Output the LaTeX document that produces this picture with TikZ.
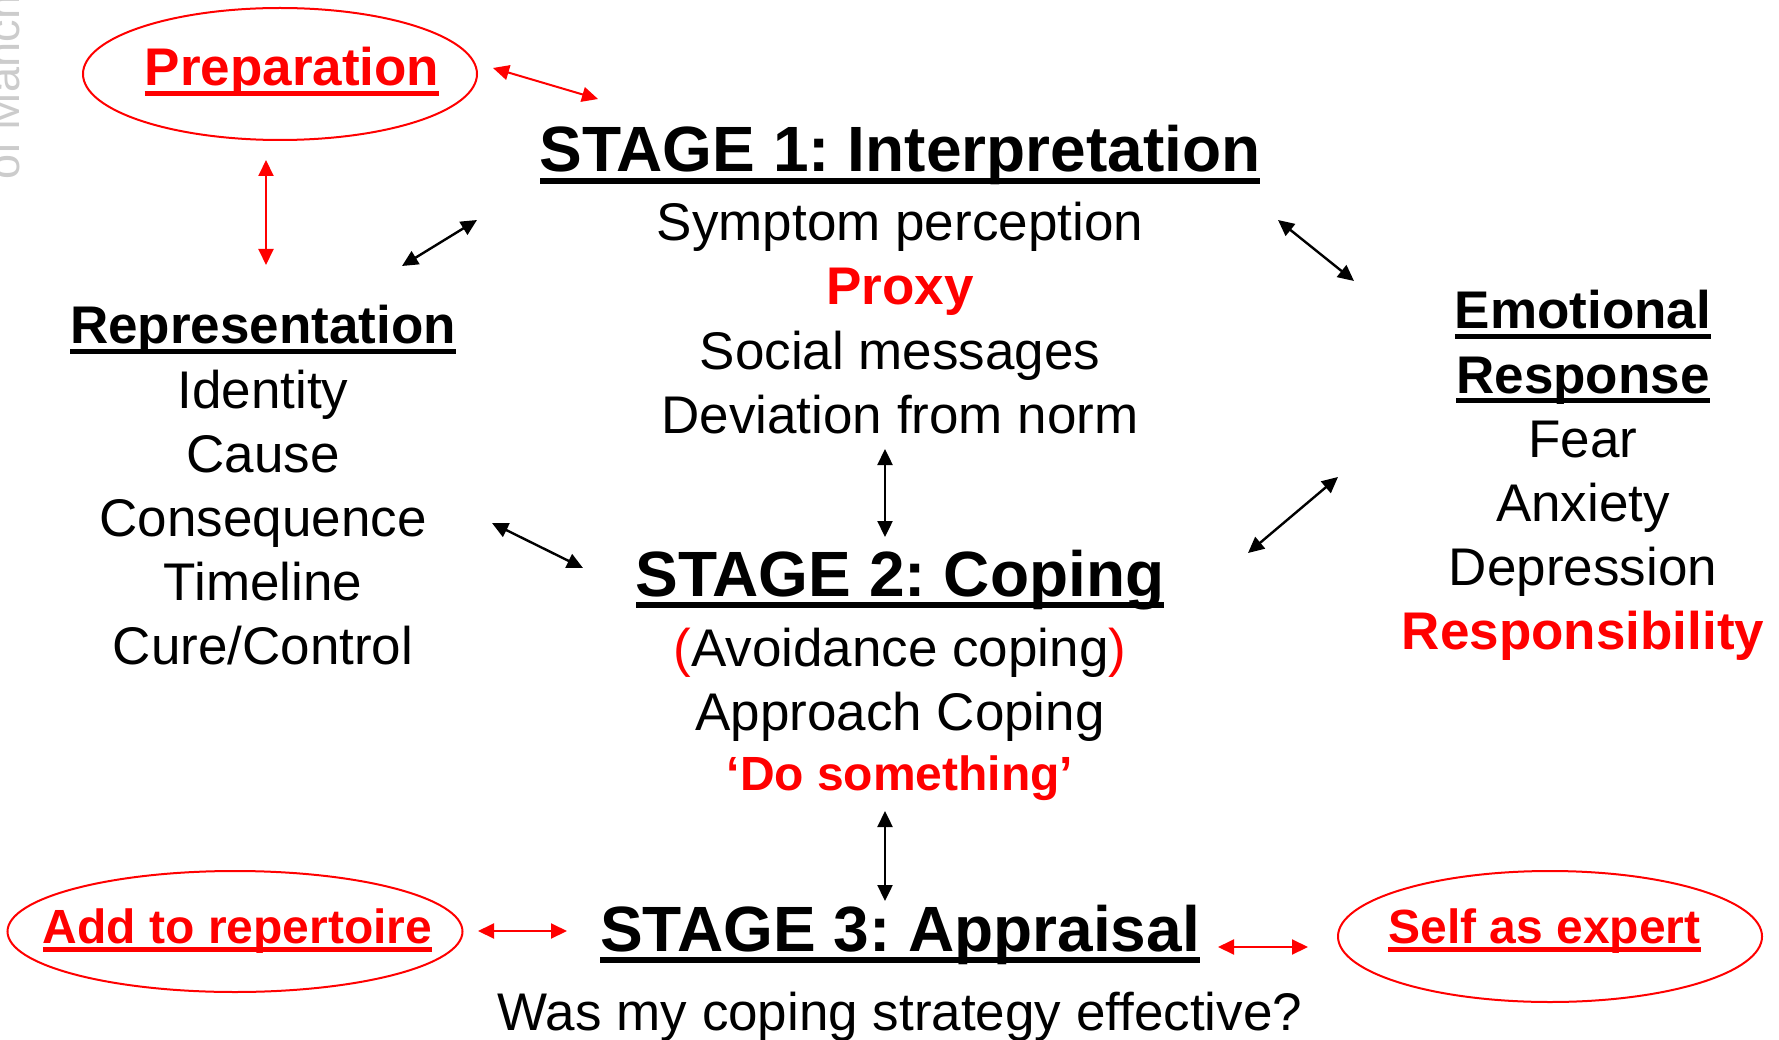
\documentclass[tikz,border=0pt]{standalone}
\usepackage{fontspec}
\setmainfont{Liberation Sans}
\usetikzlibrary{arrows.meta,shapes.geometric}

% underline drawn as a rule sized to the text box
\newsavebox\ulsave
\newcommand\ulined[1]{\sbox\ulsave{#1}\rlap{\rule[-0.18em]{\wd\ulsave}{0.09em}}\usebox\ulsave}

\begin{document}
\frenchspacing
\begin{tikzpicture}[x=1pt,y=-1pt,
  every node/.style={inner sep=0pt, outer sep=0pt},
  body/.style={anchor=base, font=\fontsize{53}{64}\selectfont},
  head/.style={anchor=base, font=\fontsize{53}{64}\selectfont\bfseries},
  smallhead/.style={anchor=base, font=\fontsize{48}{58}\selectfont\bfseries},
  stagehead/.style={anchor=base, font=\fontsize{64}{77}\selectfont\bfseries},
  oval/.style={ellipse, draw=red, line width=2pt},
  twoway/.style={line width=2.4pt, {Triangle[length=16pt,width=15pt]}-{Triangle[length=16pt,width=15pt]}},
  redway/.style={twoway, draw=red, line width=2pt},
]
\useasboundingbox (0,0) rectangle (1779,1040);
\fill[white] (0,0) rectangle (1779,1040);

% faint rotated watermark at the left edge
\begin{scope}
  \clip (0,0) rectangle (1779,1040);
  \node[anchor=base west, rotate=90, text=black!20,
        font=\fontsize{45}{54}\selectfont] (mark) at (19,180) {of Manchester};
\end{scope}

% Stage 1
\node[stagehead] (s1) at (900,172) {\ulined{STAGE 1: Interpretation}};
\node[body] (s1a) at (900,241) {Symptom perception};
\node[head, text=red] (s1b) at (900,305) {Proxy};
\node[body] (s1c) at (900,369) {Social messages};
\node[body] (s1d) at (900,433) {Deviation from norm};

% Representation
\node[head] (rep) at (263,344) {\ulined{Representation}};
\node[body] (repa) at (263,408) {Identity};
\node[body] (repb) at (263,472) {Cause};
\node[body] (repc) at (263,536) {Consequence};
\node[body] (repd) at (263,600) {Timeline};
\node[body] (repe) at (263,664) {Cure/Control};

% Emotional response
\node[head] (emo1) at (1583,329) {\ulined{Emotional}};
\node[head] (emo2) at (1583,393) {\ulined{Response}};
\node[body] (emoa) at (1583,457) {Fear};
\node[body] (emob) at (1583,521) {Anxiety};
\node[body] (emoc) at (1583,585) {Depression};
\node[head, text=red] (emod) at (1583,649) {Responsibility};

% Stage 2
\node[stagehead] (s2) at (900,596) {\ulined{STAGE 2: Coping}};
\node[body] (s2a) at (900,666) {\textcolor{red}{(}Avoidance coping\textcolor{red}{)}};
\node[body] (s2b) at (900,730) {Approach Coping};
\node[smallhead, text=red] (s2c) at (900,790) {‘Do something’};

% Stage 3
\node[stagehead] (s3) at (900,951) {\ulined{STAGE 3: Appraisal}};
\node[body] (s3a) at (900,1030) {Was my coping strategy effective?};

% Red ovals
\node[oval, minimum width=394pt, minimum height=132pt] (prepE) at (280,74) {};
\node[head, text=red] (prep) at (292,86) {\ulined{Preparation}};
\node[oval, minimum width=455pt, minimum height=121pt] (addE) at (235,931.5) {};
\node[smallhead, text=red] (add) at (237.5,943) {\ulined{Add to repertoire}};
\node[oval, minimum width=424pt, minimum height=131pt] (selfE) at (1550,936.5) {};
\node[smallhead, text=red] (self) at (1544.5,943) {\ulined{Self as expert}};

% connector end points
\coordinate (p1) at (493,68);   \coordinate (p2) at (598,99);
\coordinate (q1) at (266,160);  \coordinate (q2) at (266,265);
\coordinate (r1) at (402,266);  \coordinate (r2) at (477,220);
\coordinate (t1) at (1278,220); \coordinate (t2) at (1354,281);
\coordinate (u1) at (1338,477); \coordinate (u2) at (1248,553);
\coordinate (v1) at (492,523);  \coordinate (v2) at (583,568);
\coordinate (w1) at (885,449);  \coordinate (w2) at (885,537);
\coordinate (z1) at (885,811);  \coordinate (z2) at (885,901);
\coordinate (a1) at (478,931);  \coordinate (a2) at (567,931);
\coordinate (b1) at (1218,947); \coordinate (b2) at (1308,947);

% connectors
\draw[redway] (p1) -- (p2);
\draw[redway] (q1) -- (q2);
\draw[twoway] (r1) -- (r2);
\draw[twoway] (t1) -- (t2);
\draw[twoway] (u1) -- (u2);
\draw[twoway] (v1) -- (v2);
\draw[twoway] (w1) -- (w2);
\draw[twoway] (z1) -- (z2);
\draw[redway] (a1) -- (a2);
\draw[redway] (b1) -- (b2);
\end{tikzpicture}
\end{document}
